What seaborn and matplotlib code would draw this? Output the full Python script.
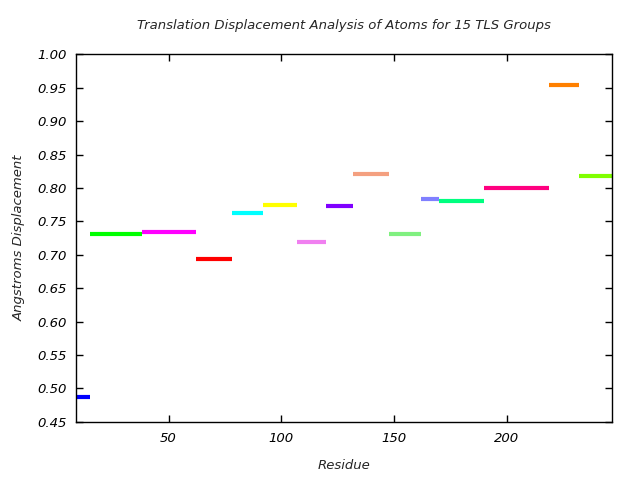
import numpy as np
import pandas as pd
from matplotlib import pyplot as plt
import seaborn as sns

# TLS group residue ranges and mean translation displacement
seg_start = [9, 15, 38, 62, 78, 92, 107, 120, 132, 148, 162, 170, 190, 219, 232]
seg_end = [15, 38, 62, 78, 92, 107, 120, 132, 148, 162, 170, 190, 219, 232, 247]
displacement = [0.488, 0.731, 0.734, 0.693, 0.762, 0.774, 0.719, 0.773, 0.821,
                 0.731, 0.783, 0.780, 0.800, 0.954, 0.818]
colors = ['#0000ff', '#00ff00', '#ff00ff', '#ff0000', '#00ffff', '#ffff00',
          '#f080f0', '#8000ff', '#f4a080', '#80f080', '#8080ff', '#00ff80',
          '#ff0080', '#ff8000', '#80ff00']

rows = []
for i in range(len(seg_start)):
    rows.append({'Group': i, 'Residue': seg_start[i], 'Disp': displacement[i]})
    rows.append({'Group': i, 'Residue': seg_end[i], 'Disp': displacement[i]})
df = pd.DataFrame(rows)

sns.set_style('ticks')
plt.rcParams['font.family'] = ['DejaVu Sans']

fig = plt.figure(figsize=(6.4, 4.8), dpi=100)
ax = fig.add_axes([0.119, 0.121, 0.838, 0.766])

sns.lineplot(data=df, x='Residue', y='Disp', hue='Group', palette=colors,
             estimator=None, legend=False, linewidth=3, ax=ax,
             solid_capstyle='butt')

ax.set_xlim(9, 247)
ax.set_ylim(0.45, 1.0)
ax.set_xticks([50, 100, 150, 200])
ax.set_yticks(np.arange(0.45, 1.001, 0.05))
ax.set_yticklabels(['%.2f' % v for v in np.arange(0.45, 1.001, 0.05)])
ax.tick_params(direction='in', length=5, width=1, top=True, right=True,
               labelsize=9.5, colors='black', pad=7)
for lab in ax.get_xticklabels() + ax.get_yticklabels():
    lab.set_fontstyle('italic')
for sp in ax.spines.values():
    sp.set_visible(True)
    sp.set_linewidth(1)
    sp.set_color('black')

ax.set_xlabel('Residue', fontsize=9.5, style='italic', labelpad=10)
ax.set_ylabel('Angstroms Displacement', fontsize=9.5, style='italic', labelpad=8)
ax.set_title('Translation Displacement Analysis of Atoms for 15 TLS Groups',
             fontsize=9.5, style='italic', pad=18)

fig.savefig('out.png', dpi=100)
